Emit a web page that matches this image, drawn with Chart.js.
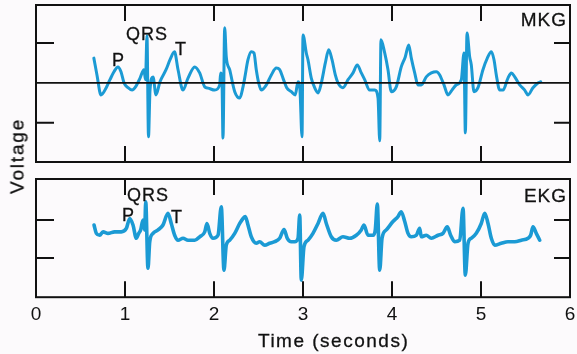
<!DOCTYPE html>
<html>
<head>
<meta charset="utf-8">
<title>MKG / EKG</title>
<script src="https://cdn.jsdelivr.net/npm/chart.js@4.4.1/dist/chart.umd.min.js"></script>
<style>
    html, body { margin: 0; padding: 0; background: #fcfafc; }
    #wrap { position: relative; width: 577px; height: 354px; overflow: hidden;
            font-family: 'Liberation Sans', Arial, sans-serif; color: #111; }
    canvas { position: absolute; left: 0; }
    .lbl { position: absolute; white-space: nowrap; line-height: 1; -webkit-text-stroke: 0.3px #111; }
    .ann { font-size: 18px; letter-spacing: 1px; }
</style>
</head>
<body>
<div id="wrap">
    <canvas id="mkg-chart" width="577" height="170" style="top:0"></canvas>
    <canvas id="ekg-chart" width="577" height="184" style="top:170px"></canvas>

    <div class="lbl" style="right:10px; top:9.5px; font-size:19px; letter-spacing:1px;">MKG</div>
    <div class="lbl" style="right:10px; top:185.5px; font-size:19px; letter-spacing:1px;">EKG</div>

    <div class="lbl ann" style="left:112px; top:50.5px;">P</div>
    <div class="lbl ann" style="left:126px; top:24.5px;">QRS</div>
    <div class="lbl ann" style="left:175px; top:39.5px;">T</div>

    <div class="lbl ann" style="left:122px; top:205.5px;">P</div>
    <div class="lbl ann" style="left:127px; top:185.5px;">QRS</div>
    <div class="lbl ann" style="left:171px; top:207.5px;">T</div>

    <div class="lbl" style="left:17px; top:156px; font-size:19px; letter-spacing:1.8px;
         transform: translate(-50%, -50%) rotate(-90deg);">Voltage</div>
    <div class="lbl" style="left:258px; top:330.5px; font-size:19px; letter-spacing:1.5px;">Time (seconds)</div>
</div>

<script>
// Time axis (seconds)
const timeTicks = [0, 1, 2, 3, 4, 5, 6];
const innerTimeTicks = [1, 2, 3, 4, 5];

// MKG trace: time (s) and voltage (tick units)
const mkgTime = [0.65, 0.685, 0.73, 0.775, 0.831, 0.876, 0.921, 0.955, 0.989, 1.034,
    1.079, 1.124, 1.169, 1.213, 1.23, 1.247, 1.264, 1.281, 1.315, 1.348,
    1.393, 1.461, 1.506, 1.556, 1.596, 1.652, 1.708, 1.783, 1.839, 1.896,
    1.933, 2.008, 2.064, 2.075, 2.09, 2.101, 2.12, 2.138, 2.176, 2.233,
    2.289, 2.326, 2.345, 2.382, 2.419, 2.449, 2.475, 2.502, 2.531, 2.588,
    2.644, 2.7, 2.738, 2.775, 2.817, 2.869, 2.913, 2.944, 2.966, 2.989,
    3.0, 3.037, 3.056, 3.093, 3.131, 3.169, 3.206, 3.251, 3.289, 3.326,
    3.363, 3.393, 3.449, 3.506, 3.562, 3.61, 3.655, 3.693, 3.749, 3.806,
    3.843, 3.862, 3.876, 3.918, 3.955, 3.992, 4.048, 4.104, 4.149, 4.188,
    4.217, 4.255, 4.292, 4.329, 4.385, 4.442, 4.498, 4.536, 4.584, 4.629,
    4.674, 4.722, 4.779, 4.809, 4.815, 4.824, 4.843, 4.873, 4.891, 4.921,
    4.966, 5.022, 5.071, 5.116, 5.146, 5.172, 5.21, 5.247, 5.303, 5.341,
    5.379, 5.435, 5.491, 5.528, 5.584, 5.64, 5.671];
const mkgVolt = [0.62, 0.2, -0.3, -0.18, 0.08, 0.28, 0.4, 0.28, 0, -0.12,
    -0.18, -0.08, 0.12, 0.33, 0.08, 1.18, -1.35, -0.18, 0.15, -0.3,
    0.03, 0.33, 0.58, 0.78, 0.33, -0.18, 0.12, 0.4, 0.25, -0.1,
    -0.13, -0.18, -0.05, 0.25, 0.02, -1.38, 1.38, 0.65, 0.33, -0.22,
    -0.38, -0.1, 0.12, 0.58, 0.78, 0.75, 0.33, 0, -0.18, -0.05,
    0.2, 0.37, 0.33, 0.12, -0.12, -0.22, -0.3, 0.03, -0.18, -1.35,
    1.2, 0.75, 0.58, 0.12, -0.12, -0.25, 0, 0.5, 0.83, 0.58,
    0.2, 0, -0.12, 0.08, 0.25, 0.45, 0.25, 0.08, -0.18, -0.18,
    -0.38, -1.45, 1.08, 0.75, 0.33, -0.22, -0.1, 0.4, 0.65, 0.95,
    0.62, 0.25, -0.05, -0.05, 0.15, 0.25, 0.28, 0.2, -0.05, -0.3,
    -0.18, -0.05, 0.08, 0.75, -0.05, -1.25, 1.25, 0.65, 0.45, -0.22,
    -0.12, 0.33, 0.62, 0.78, 0.58, 0.2, -0.18, -0.18, 0.12, 0.25,
    0.15, -0.05, -0.18, -0.3, -0.12, 0, 0.03];
const mkgRange = [-1.98, 1.95];
const mkgTicks = [-1, 1];

// EKG trace: time (s) and voltage (tick units)
const ekgTime = [0.652, 0.678, 0.716, 0.753, 0.809, 0.884, 0.958, 1.015, 1.053, 1.09,
    1.127, 1.154, 1.176, 1.202, 1.221, 1.233, 1.258, 1.278, 1.315, 1.371,
    1.427, 1.483, 1.52, 1.558, 1.596, 1.652, 1.708, 1.783, 1.839, 1.896,
    1.921, 1.952, 1.989, 2.045, 2.082, 2.112, 2.138, 2.176, 2.233, 2.289,
    2.326, 2.352, 2.382, 2.419, 2.475, 2.513, 2.57, 2.626, 2.682, 2.738,
    2.787, 2.824, 2.869, 2.907, 2.944, 2.963, 2.981, 3.011, 3.056, 3.112,
    3.169, 3.225, 3.262, 3.318, 3.374, 3.449, 3.525, 3.599, 3.655, 3.685,
    3.73, 3.787, 3.812, 3.835, 3.862, 3.888, 3.936, 4.011, 4.067, 4.104,
    4.143, 4.18, 4.217, 4.273, 4.311, 4.329, 4.385, 4.442, 4.517, 4.573,
    4.621, 4.659, 4.704, 4.761, 4.798, 4.824, 4.854, 4.891, 4.947, 5.003,
    5.042, 5.079, 5.116, 5.154, 5.228, 5.303, 5.379, 5.453, 5.528, 5.558,
    5.584, 5.621, 5.66];
const ekgVolt = [0.37, 0.15, 0.1, 0.19, 0.15, 0.19, 0.19, 0.28, 0.54, 0.37,
    0.02, 0.15, 0.24, 0.5, 0.24, 0.98, -0.77, -0.07, 0.15, 0.24,
    0.37, 0.68, 0.41, 0.1, -0.03, 0.02, -0.03, -0.03, 0.06, 0.19,
    0.41, 0.15, 0.02, 0.1, 0.85, -0.82, -0.16, -0.03, 0.15, 0.41,
    0.54, 0.59, 0.37, 0.06, -0.11, -0.07, -0.16, -0.11, -0.07, 0.02,
    0.25, 0.02, -0.07, -0.07, 0.02, 0.63, -1.08, -0.2, -0.03, 0.15,
    0.41, 0.68, 0.41, 0.06, -0.03, 0.06, 0.02, 0.1, 0.24, 0.37,
    0.1, 0.1, 0.24, 0.92, -0.82, 0.02, 0.24, 0.46, 0.59, 0.72,
    0.46, 0.15, 0.06, 0.1, 0.28, 0.06, 0.1, 0.02, 0.1, 0.15,
    0.32, 0.1, -0.07, -0.03, 0.81, -0.95, -0.11, 0.02, 0.15, 0.41,
    0.68, 0.41, 0.02, -0.16, -0.11, -0.07, -0.07, -0.03, 0.02, 0.1,
    0.32, 0.15, -0.03];
const ekgRange = [-1.53, 1.58];
const ekgTicks = [-0.5, 0.5];

const traceColor = '#1b9ad4';
const inkColor = '#111111';
const fontFamily = "'Liberation Sans', Arial, sans-serif";

// Draws the box round the plot area, the inward tick marks and the zero line
const framePlugin = {
    id: 'frame',
    afterDatasetsDraw(chart, args, opts) {
        const ctx = chart.ctx;
        const area = chart.chartArea;
        const xScale = chart.scales.x;
        const yScale = chart.scales.y;
        const len = 16;

        ctx.save();
        ctx.strokeStyle = inkColor;
        ctx.lineCap = 'butt';

        if (opts.zeroLine) {
            const y0 = yScale.getPixelForValue(0);
            ctx.lineWidth = 1.6;
            ctx.beginPath();
            ctx.moveTo(area.left, y0);
            ctx.lineTo(area.right, y0);
            ctx.stroke();
        }

        ctx.lineWidth = 2;
        ctx.strokeRect(area.left, area.top, area.right - area.left, area.bottom - area.top);

        ctx.beginPath();
        opts.xTicks.forEach(t => {
            const px = xScale.getPixelForValue(t);
            ctx.moveTo(px, area.top);
            ctx.lineTo(px, area.top + len);
            ctx.moveTo(px, area.bottom);
            ctx.lineTo(px, area.bottom - len);
        });
        opts.yTicks.forEach(v => {
            const py = yScale.getPixelForValue(v);
            ctx.moveTo(area.left, py);
            ctx.lineTo(area.left + len + 2, py);
            ctx.moveTo(area.right, py);
            ctx.lineTo(area.right - len, py);
        });
        ctx.stroke();
        ctx.restore();
    }
};

function toPoints(times, volts) {
    return times.map((t, i) => ({ x: t, y: volts[i] }));
}

// Build one panel (MKG or EKG)
function createPanel(canvasId, times, volts, range, yTicks, opts) {
    const ctx = document.getElementById(canvasId).getContext('2d');

    return new Chart(ctx, {
        type: 'line',
        data: {
            datasets: [{
                data: toPoints(times, volts),
                borderColor: traceColor,
                borderWidth: opts.lineWidth,
                pointRadius: 0,
                cubicInterpolationMode: 'monotone',
                borderJoinStyle: 'round',
                borderCapStyle: 'round',
                fill: false
            }]
        },
        options: {
            responsive: false,
            animation: false,
            layout: { padding: opts.padding },
            plugins: {
                legend: { display: false },
                tooltip: { enabled: false },
                frame: {
                    zeroLine: opts.zeroLine,
                    xTicks: innerTimeTicks,
                    yTicks: yTicks
                }
            },
            scales: {
                x: {
                    type: 'linear',
                    min: timeTicks[0],
                    max: timeTicks[timeTicks.length - 1],
                    display: opts.showTimeLabels,
                    // grid hidden; tickLength only pushes the labels down
                    grid: { display: false, drawTicks: true, tickLength: 6 },
                    border: { display: false },
                    afterBuildTicks: scale => {
                        scale.ticks = timeTicks.map(v => ({ value: v }));
                    },
                    ticks: {
                        color: inkColor,
                        padding: 0,
                        maxRotation: 0,
                        autoSkip: false,
                        font: { family: fontFamily, size: 19 }
                    }
                },
                y: {
                    type: 'linear',
                    min: range[0],
                    max: range[1],
                    display: false
                }
            }
        },
        plugins: [framePlugin]
    });
}

createPanel('mkg-chart', mkgTime, mkgVolt, mkgRange, mkgTicks, {
    lineWidth: 3,
    zeroLine: true,
    showTimeLabels: false,
    padding: { left: 36, right: 7, top: 5, bottom: 8 }
});

createPanel('ekg-chart', ekgTime, ekgVolt, ekgRange, ekgTicks, {
    lineWidth: 3.6,
    zeroLine: false,
    showTimeLabels: true,
    padding: { left: 36, right: 7, top: 9, bottom: 28 }
});
</script>
</body>
</html>
